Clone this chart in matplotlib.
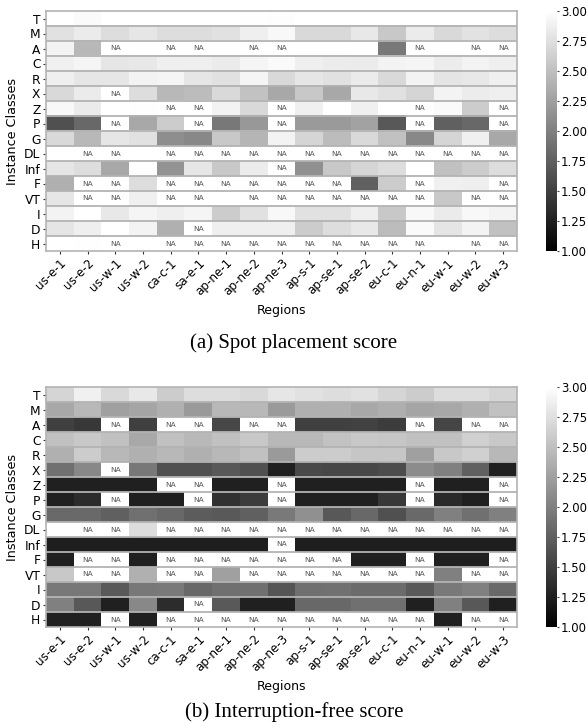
import matplotlib
matplotlib.use("Agg")
import matplotlib.pyplot as plt
import numpy as np

classes = ["T", "M", "A", "C", "R", "X", "Z", "P", "G", "DL", "Inf", "F", "VT", "I", "D", "H"]
regions = ["us-e-1", "us-e-2", "us-w-1", "us-w-2", "ca-c-1", "sa-e-1", "ap-ne-1", "ap-ne-2",
           "ap-ne-3", "ap-s-1", "ap-se-1", "ap-se-2", "eu-c-1", "eu-n-1", "eu-w-1", "eu-w-2", "eu-w-3"]
N = np.nan

# (a) spot placement score
sps = [
    [3.00, 2.96, 3.00, 3.00, 3.00, 3.00, 3.00, 2.99, 2.98, 3.00, 3.00, 3.00, 3.00, 3.00, 3.00, 3.00, 3.00],  # T
    [2.76, 2.84, 2.73, 2.80, 2.73, 2.73, 2.76, 2.87, 2.94, 2.70, 2.70, 2.82, 2.57, 2.84, 2.70, 2.77, 2.73],  # M
    [2.90, 2.44, N,    3.00, N,    N,    3.00, N,    N,    2.99, 2.99, 3.00, 1.94, N,    2.99, N,    N   ],  # A
    [2.88, 2.92, 2.80, 2.82, 2.87, 2.87, 2.84, 2.92, 2.96, 2.87, 2.85, 2.84, 2.90, 2.92, 2.85, 2.91, 2.87],  # C
    [2.87, 2.80, 2.80, 2.90, 2.92, 2.80, 2.76, 2.92, 2.70, 2.80, 2.76, 2.84, 2.70, 2.90, 2.79, 2.82, 2.88],  # R
    [2.70, 2.84, N,    2.73, 2.44, 2.47, 2.70, 2.52, 2.32, 2.57, 2.32, 2.82, 2.76, 2.67, 2.90, 2.85, 2.87],  # X
    [2.94, 2.84, 3.00, 2.99, N,    N,    2.91, 2.70, N,    2.88, 3.00, 2.88, 3.00, N,    2.96, 2.60, N   ],  # Z
    [1.63, 1.82, N,    2.32, 2.60, N,    1.94, 2.19, N,    2.21, 2.21, 2.27, 1.69, N,    1.75, 1.82, N   ],  # P
    [2.70, 2.44, 2.80, 2.76, 2.11, 2.07, 2.57, 2.42, 2.90, 2.67, 2.47, 2.70, 2.51, 2.07, 2.67, 2.88, 2.32],  # G
    [3.00, N,    N,    3.00, N,    N,    N,    N,    N,    N,    N,    N,    N,    N,    N,    N,    N   ],  # DL
    [2.79, 2.73, 2.32, 2.99, 2.16, 2.80, 2.57, 2.85, N,    2.13, 2.57, 2.67, 2.73, 3.00, 2.51, 2.60, 2.73],  # Inf
    [2.38, N,    N,    2.73, N,    N,    N,    N,    N,    N,    N,    1.75, 2.60, N,    2.88, 2.87, N   ],  # F
    [2.80, N,    N,    2.88, N,    N,    3.00, N,    N,    N,    N,    N,    N,    N,    2.57, N,    N   ],  # VT
    [2.90, 3.00, 2.82, 2.92, 2.87, 2.92, 2.60, 2.76, 2.94, 2.76, 2.76, 2.87, 2.57, 2.94, 2.84, 2.94, 2.91],  # I
    [2.79, 2.87, 3.00, 2.90, 2.38, N,    2.87, 2.87, 2.87, 2.60, 2.73, 2.82, 2.47, 2.96, 2.79, 2.90, 2.51],  # D
    [3.00, 2.99, N,    3.00, N,    N,    N,    N,    N,    N,    N,    N,    N,    N,    3.00, N,    N   ],  # H
]

# (b) interruption-free score
ifs = [
    [2.67, 2.88, 2.70, 2.82, 2.60, 2.73, 2.73, 2.70, 2.80, 2.76, 2.73, 2.76, 2.67, 2.60, 2.73, 2.73, 2.67],  # T
    [2.32, 2.44, 2.25, 2.29, 2.38, 2.21, 2.44, 2.44, 2.21, 2.38, 2.38, 2.32, 2.36, 2.29, 2.32, 2.38, 2.51],  # M
    [1.50, 1.44, N,    1.50, N,    N,    1.56, N,    N,    1.50, 1.50, 1.52, 1.47, N,    1.54, N,    N   ],  # A
    [2.51, 2.57, 2.51, 2.32, 2.51, 2.44, 2.51, 2.57, 2.44, 2.44, 2.52, 2.57, 2.55, 2.51, 2.51, 2.63, 2.57],  # C
    [2.38, 2.60, 2.44, 2.38, 2.44, 2.38, 2.44, 2.51, 2.21, 2.60, 2.60, 2.55, 2.55, 2.25, 2.57, 2.63, 2.44],  # R
    [1.88, 2.07, N,    1.94, 1.63, 1.63, 1.69, 1.63, 1.25, 1.58, 1.56, 1.56, 1.60, 2.10, 2.00, 1.75, 1.25],  # X
    [1.25, 1.25, 1.25, 1.25, N,    N,    1.25, 1.25, N,    1.25, 1.25, 1.25, 1.25, N,    1.25, 1.25, N   ],  # Z
    [1.25, 1.35, N,    1.25, 1.25, N,    1.38, 1.47, N,    1.25, 1.25, 1.25, 1.45, N,    1.33, 1.25, N   ],  # P
    [1.83, 1.83, 1.75, 1.88, 1.82, 1.72, 1.71, 1.75, 1.96, 2.13, 1.69, 1.82, 1.63, 1.83, 2.00, 1.88, 2.00],  # G
    [3.00, N,    N,    2.73, N,    N,    N,    N,    N,    N,    N,    N,    N,    N,    N,    N,    N   ],  # DL
    [1.24, 1.24, 1.24, 1.24, 1.24, 1.24, 1.24, 1.24, N,    1.24, 1.24, 1.24, 1.24, 1.24, 1.24, 1.24, 1.24],  # Inf
    [1.25, N,    N,    1.25, N,    N,    N,    N,    N,    N,    N,    1.25, 1.25, N,    1.25, 1.25, N   ],  # F
    [2.57, N,    N,    2.38, N,    N,    2.25, N,    N,    N,    N,    N,    N,    N,    2.00, N,    N   ],  # VT
    [1.94, 1.94, 1.71, 1.94, 1.96, 1.82, 1.88, 1.88, 1.67, 1.88, 1.89, 1.84, 1.84, 1.71, 1.96, 2.00, 1.83],  # I
    [2.00, 1.69, 1.25, 2.07, 1.35, N,    1.71, 1.25, 1.25, 1.82, 1.82, 1.88, 1.88, 1.25, 2.00, 1.69, 1.25],  # D
    [1.25, 1.25, N,    1.25, N,    N,    N,    N,    N,    N,    N,    N,    N,    N,    1.25, N,    N   ],  # H
]

captions = ["(a) Spot placement score", "(b) Interruption-free score"]

W, H = 588, 725
fig = plt.figure(figsize=(W / 100, H / 100), dpi=100)

cmap = plt.get_cmap("gray").copy()
cmap.set_bad("white")
grid = "#b3b3b3"


def heat(ax, cax, data):
    arr = np.ma.masked_invalid(np.array(data, dtype=float))
    im = ax.imshow(arr, cmap=cmap, vmin=1, vmax=3, aspect="auto", interpolation="nearest")
    nr, nc = arr.shape
    for i in range(nr):
        for j in range(nc):
            if arr.mask[i, j]:
                ax.text(j, i, "NA", ha="center", va="center", fontsize=5.4, color="#555555")
    ax.hlines(np.arange(0.5, nr - 0.5), -0.5, nc - 0.5, color=grid, lw=1.3)
    for s in ax.spines.values():
        s.set_color(grid)
        s.set_linewidth(1.2)
    ax.set_xticks(range(nc))
    ax.set_xticklabels(regions, rotation=45, ha="right", rotation_mode="anchor", fontsize=8.6)
    ax.set_yticks(range(nr))
    ax.set_yticklabels(classes, fontsize=8.8)
    ax.tick_params(length=2.5, width=0.8, color="#333333", pad=1.5)
    ax.set_xlabel("Regions", fontsize=9, labelpad=4)
    ax.set_ylabel("Instance Classes", fontsize=9.2, labelpad=4)
    cb = fig.colorbar(im, cax=cax, ticks=np.arange(1, 3.01, 0.25), format="%.2f")
    cb.outline.set_visible(False)
    cax.tick_params(length=1.5, width=0.8, labelsize=8.5, pad=1.5, color="#444444")


tops = [11, 387]
hh = 240
for k, data in enumerate([sps, ifs]):
    y0 = 1 - (tops[k] + hh) / H
    ax = fig.add_axes([46 / W, y0, 471 / W, hh / H])
    cax = fig.add_axes([546 / W, y0, 11 / W, hh / H])
    heat(ax, cax, data)

serif = ["Liberation Serif", "DejaVu Serif"]
fig.text(0.5, 1 - 348 / H, captions[0], ha="center", va="baseline", fontsize=15, family=serif)
fig.text(0.5, 1 - 717 / H, captions[1], ha="center", va="baseline", fontsize=15, family=serif)

fig.savefig("out.png", dpi=100)
